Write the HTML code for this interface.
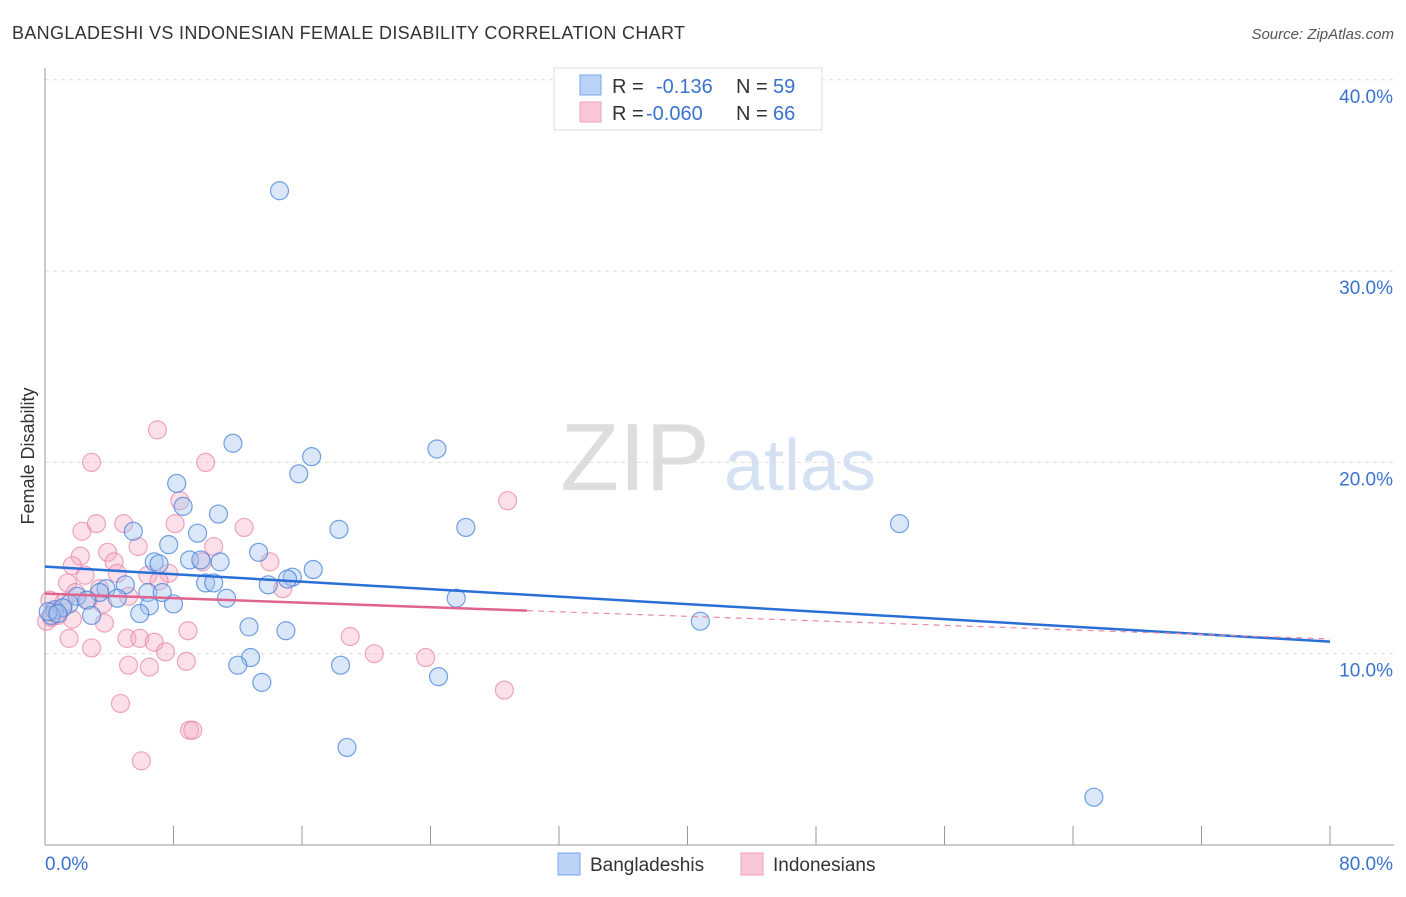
<!DOCTYPE html>
<html><head><meta charset="utf-8"><style>
body{margin:0;background:#fff;font-family:"Liberation Sans",sans-serif}
svg text{font-family:"Liberation Sans",sans-serif}
</style></head><body>
<svg id="c" width="1406" height="892">
<text x="12" y="39" font-size="18" fill="#333" textLength="673">BANGLADESHI VS INDONESIAN FEMALE DISABILITY CORRELATION CHART</text>
<text x="1394" y="39" font-size="15" fill="#555" font-style="italic" text-anchor="end">Source: ZipAtlas.com</text>
<text transform="translate(34,456) rotate(-90)" font-size="18" fill="#333" text-anchor="middle">Female Disability</text>
<g><text x="635" y="490" font-size="96" fill="#ddd" font-family="Liberation Serif" text-anchor="middle">ZIP</text><text x="800" y="490" font-size="72" fill="#d3e1f3" text-anchor="middle">atlas</text></g>
<g id="grid"></g><g id="axes"></g><g id="pts"></g><g id="lines"></g>
<g>
<rect x="554" y="68" width="268" height="62" fill="#fff" stroke="#ddd"/>
<rect x="580" y="75" width="21" height="20" fill="#b9d2f5" stroke="#7aa6e6"/>
<rect x="580" y="102" width="21" height="20" fill="#f9c6d6" stroke="#eda0ba"/>
<text x="612" y="93" font-size="20" fill="#333">R =</text><text x="656" y="93" font-size="20" fill="#3a72d0">-0.136</text>
<text x="736" y="93" font-size="20" fill="#333">N =</text><text x="773" y="93" font-size="20" fill="#3a72d0">59</text>
<text x="612" y="120" font-size="20" fill="#333">R =</text><text x="646" y="120" font-size="20" fill="#3a72d0">-0.060</text>
<text x="736" y="120" font-size="20" fill="#333">N =</text><text x="773" y="120" font-size="20" fill="#3a72d0">66</text>
</g>
<g>
<rect x="558" y="853" width="22" height="22" fill="#b9d2f5" stroke="#7aa6e6"/>
<text x="590" y="871" font-size="19" fill="#333">Bangladeshis</text>
<rect x="741" y="853" width="22" height="22" fill="#f9c6d6" stroke="#eda0ba"/>
<text x="773" y="871" font-size="19" fill="#333">Indonesians</text>
</g>
</svg>
<script>
const blueX=[14.6,11.7,24.4,16.6,15.8,8.2,8.6,10.8,18.3,26.2,53.2,5.5,9.5,7.7,13.3,9.0,9.7,10.9,6.8,7.1,16.7,15.4,15.1,10.0,10.5,13.9,5.0,3.8,3.4,6.4,7.3,4.5,2.0,2.6,11.3,25.6,8.0,6.5,1.5,0.6,1.1,5.9,2.9,40.8,12.7,15.0,0.4,12.8,12.0,18.4,13.5,24.5,18.8,65.3,0.2,0.8];
const blueY=[34.2,21.0,20.7,20.3,19.4,18.9,17.7,17.3,16.5,16.6,16.8,16.4,16.3,15.7,15.3,14.9,14.9,14.8,14.8,14.7,14.4,14.0,13.9,13.7,13.7,13.6,13.6,13.4,13.2,13.2,13.2,12.9,13.0,12.8,12.9,12.9,12.6,12.5,12.6,12.3,12.4,12.1,12.0,11.7,11.4,11.2,12.0,9.8,9.4,9.4,8.5,8.8,5.1,2.5,12.2,12.1];
const pinkX=[7.0,2.9,10.0,28.8,8.4,2.3,3.2,4.9,8.1,12.4,10.5,2.2,3.9,5.8,14.0,4.3,1.7,2.5,4.5,9.8,6.4,7.7,7.1,14.8,1.4,3.4,1.9,5.2,2.7,3.6,0.3,0.6,1.1,3.7,1.7,8.9,19.0,1.5,5.1,5.9,6.8,2.9,7.5,20.5,23.7,5.2,6.5,8.8,28.6,4.7,9.0,9.2,6.0,0.1,0.4,0.8,1.2];
const pinkY=[21.7,20.0,20.0,18.0,18.0,16.4,16.8,16.8,16.8,16.6,15.6,15.1,15.3,15.6,14.8,14.8,14.6,14.1,14.2,14.8,14.1,14.2,13.8,13.4,13.7,13.4,13.2,13.0,12.8,12.6,12.8,12.2,12.4,11.6,11.8,11.2,10.9,10.8,10.8,10.8,10.6,10.3,10.1,10.0,9.8,9.4,9.3,9.6,8.1,7.4,6.0,6.0,4.4,11.7,11.9,12.0,12.7];
const yTicks=[10,20,30,40];
const yTickLabels=["10.0%","20.0%","30.0%","40.0%"];
const blueTrend=[[0,14.55],[80,10.63]];
const pinkTrend=[[0,13.14],[30,12.25],[80,10.77]];
const NS="http://www.w3.org/2000/svg";
const X=v=>45+v/80*1285, Y=v=>845-v*19.13;
function mk(t,a,p){const e=document.createElementNS(NS,t);for(const k in a)e.setAttribute(k,a[k]);document.getElementById(p).appendChild(e);return e;}
yTicks.forEach((t,i)=>{
 const g=mk('line',{x1:45,x2:1394,y1:Y(t),y2:Y(t),stroke:'#ddd','stroke-dasharray':'4,4'},'grid');
 
 
 const l=mk('text',{x:1393,y:Y(t)+23,'font-size':19,fill:'#3a72d0','text-anchor':'end'},'axes');l.textContent=yTickLabels[i];
 
 
});
mk('line',{x1:45,x2:45,y1:68,y2:845,stroke:'#999'},'axes');
mk('line',{x1:45,x2:1394,y1:845,y2:845,stroke:'#999'},'axes');
for(let i=1;i<=10;i++){const t=mk('line',{x1:X(i*8),x2:X(i*8),y1:826,y2:845,stroke:'#999'},'axes');
 
 }
let a=mk('text',{x:45,y:870,'font-size':19,fill:'#3a72d0'},'axes');a.textContent='0.0%';


a=mk('text',{x:1393,y:870,'font-size':19,fill:'#3a72d0','text-anchor':'end'},'axes');a.textContent='80.0%';


pinkX.forEach((x,i)=>{const c=mk('circle',{cx:X(x),cy:Y(pinkY[i]),r:9,fill:'rgba(244,166,192,0.35)',stroke:'rgba(232,130,165,0.7)','stroke-width':1.2},'pts');
 
 });
blueX.forEach((x,i)=>{const c=mk('circle',{cx:X(x),cy:Y(blueY[i]),r:9,fill:'rgba(160,195,240,0.4)',stroke:'rgba(70,130,215,0.75)','stroke-width':1.2},'pts');
 
 });
let l=mk('line',{x1:X(blueTrend[0][0]),y1:Y(blueTrend[0][1]),x2:X(blueTrend[1][0]),y2:Y(blueTrend[1][1]),stroke:'#2a6fd6','stroke-width':2.5},'lines');


l=mk('line',{x1:X(pinkTrend[0][0]),y1:Y(pinkTrend[0][1]),x2:X(pinkTrend[1][0]),y2:Y(pinkTrend[1][1]),stroke:'#e0648f','stroke-width':2.5},'lines');


l=mk('line',{x1:X(pinkTrend[1][0]),y1:Y(pinkTrend[1][1]),x2:X(pinkTrend[2][0]),y2:Y(pinkTrend[2][1]),stroke:'#e88aa8','stroke-width':1.2,'stroke-dasharray':'6,5'},'lines');


</script>
</body></html>
